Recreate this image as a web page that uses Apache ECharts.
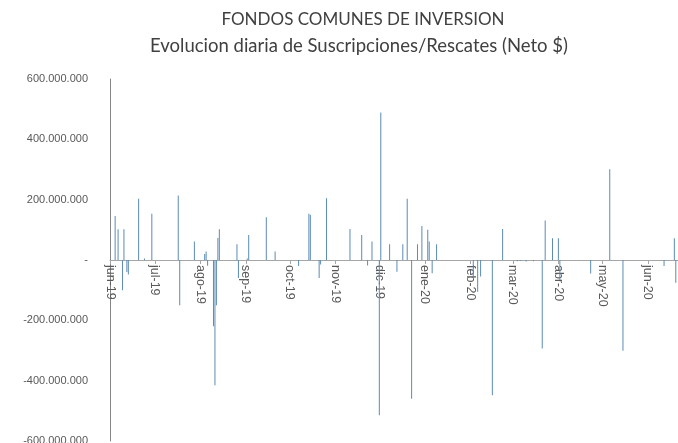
<!DOCTYPE html>
<html>
<head>
<meta charset="utf-8">
<script src="https://cdn.jsdelivr.net/npm/echarts@6/dist/echarts.min.js"></script>
<style>html,body{margin:0;padding:0;background:#fff}#c{width:678px;height:443px}</style>
</head>
<body>
<div id="c"></div>
<script>
const titleText = 'FONDOS COMUNES DE INVERSION';
const subtitleText = 'Evolucion diaria de Suscripciones/Rescates (Neto $)';
const startDate = '2019-06-04';
const endDate = '2020-06-24';
const monthLabels = ['jun-19','jul-19','ago-19','sep-19','oct-19','nov-19','dic-19','ene-20','feb-20','mar-20','abr-20','may-20','jun-20'];
const yMin = -600e6, yMax = 600e6, yStep = 200e6;
const barDates = [
 '2019-06-07','2019-06-09','2019-06-12','2019-06-13','2019-06-15','2019-06-16','2019-06-23','2019-06-27','2019-07-02',
 '2019-07-20','2019-07-21','2019-07-31','2019-08-07','2019-08-08','2019-08-09','2019-08-13','2019-08-14','2019-08-15',
 '2019-08-16','2019-08-17','2019-08-29','2019-08-30','2019-09-05','2019-09-06','2019-09-18','2019-09-24',
 '2019-10-10','2019-10-17','2019-10-18','2019-10-24','2019-10-25','2019-10-29',
 '2019-11-14','2019-11-22','2019-11-26','2019-11-29',
 '2019-12-04','2019-12-05','2019-12-11','2019-12-16','2019-12-20','2019-12-23','2019-12-26','2019-12-30',
 '2020-01-02','2020-01-06','2020-01-07','2020-01-09','2020-01-12',
 '2020-02-06','2020-02-09','2020-02-11','2020-02-19','2020-02-26',
 '2020-03-07','2020-03-09','2020-03-13','2020-03-18','2020-03-24','2020-03-26','2020-03-31',
 '2020-04-04','2020-04-05','2020-04-26','2020-05-09','2020-05-18','2020-06-15','2020-06-22','2020-06-23'
];
const barValues = [
 146e6,102e6,-100e6,102e6,-40e6,-48e6,203e6,5e6,153e6,
 214e6,-150e6,61e6,20e6,28e6,-19e6,-220e6,-415e6,-150e6,
 73e6,102e6,52e6,-60e6,5e6,83e6,142e6,28e6,
 -20e6,153e6,150e6,-60e6,-15e6,205e6,
 103e6,83e6,-18e6,61e6,
 -515e6,489e6,52e6,-39e6,52e6,203e6,-460e6,52e6,
 113e6,100e6,61e6,-44e6,52e6,
 -60e6,-105e6,-55e6,-448e6,103e6,
 -4e6,-3e6,-5e6,-4e6,-293e6,131e6,72e6,
 72e6,-66e6,-45e6,301e6,-301e6,-20e6,72e6,-75e6
];

function ymd(d){return d.toISOString().slice(0,10);}
const days = [];
for (let d = new Date(startDate+'T00:00:00Z'); ymd(d) <= endDate; d.setUTCDate(d.getUTCDate()+1)) days.push(ymd(d));
const valueByDate = {};
barDates.forEach((d,i)=>{valueByDate[d]=barValues[i];});
const seriesData = days.map(d => valueByDate[d] !== undefined ? valueByDate[d] : null);
const isMonthTick = (idx, val) => val.slice(8,10) === startDate.slice(8,10);
function monthLabel(val){
  const y = +val.slice(0,4), m = +val.slice(5,7);
  const sy = +startDate.slice(0,4), sm = +startDate.slice(5,7);
  return monthLabels[(y-sy)*12 + (m-sm)] || '';
}
function fmtNum(v){
  if (v === 0) return '-';
  const s = Math.abs(v).toFixed(0).replace(/\B(?=(\d{3})+(?!\d))/g,'.');
  return (v<0?'-':'') + s;
}

const W = 678, H = 443;
const gridTop = 79, gridBottom = 2;
const gridH = H - gridTop - gridBottom;
// place the x axis at the zero line of the value axis
const zeroOffset = -gridH * (0 - yMin) / (yMax - yMin);

const chart = echarts.init(document.getElementById('c'), null, {renderer:'canvas'});
chart.setOption({
  animation:false,
  backgroundColor:'#ffffff',
  title:[
    {text:titleText, left:358, top:6, textAlign:'center', textStyle:{fontFamily:'Lato, sans-serif', fontWeight:'normal', fontSize:17, color:'#404040'}},
    {text:subtitleText, left:354, top:32, textAlign:'center', textStyle:{fontFamily:'Lato, sans-serif', fontWeight:'normal', fontSize:18.5, color:'#404040'}}
  ],
  grid:{left:110, right:0, top:gridTop, bottom:gridBottom, containLabel:false, outerBoundsMode:'none'},
  xAxis:{
    type:'category', data:days, boundaryGap:true, position:'bottom', offset:zeroOffset,
    axisLine:{onZero:false, lineStyle:{color:'#a6a6a6', width:1}},
    axisTick:{show:true, interval:isMonthTick, alignWithLabel:true, length:4, lineStyle:{color:'#a6a6a6'}},
    axisLabel:{interval:isMonthTick, rotate:-90, margin:5, fontSize:12.5, color:'#595959', fontFamily:'Liberation Sans, sans-serif', formatter:monthLabel},
    splitLine:{show:false}
  },
  yAxis:{
    type:'value', min:yMin, max:yMax, interval:yStep,
    axisLine:{show:true, lineStyle:{color:'#868686', width:1}},
    axisTick:{show:false},
    splitLine:{show:false},
    axisLabel:{formatter:fmtNum, fontSize:11, color:'#595959', margin:22, fontFamily:'Liberation Sans, sans-serif'}
  },
  series:[{type:'bar', data:seriesData, barWidth:1, itemStyle:{color:'#5b8bb5'}}]
});
</script>
</body>
</html>
